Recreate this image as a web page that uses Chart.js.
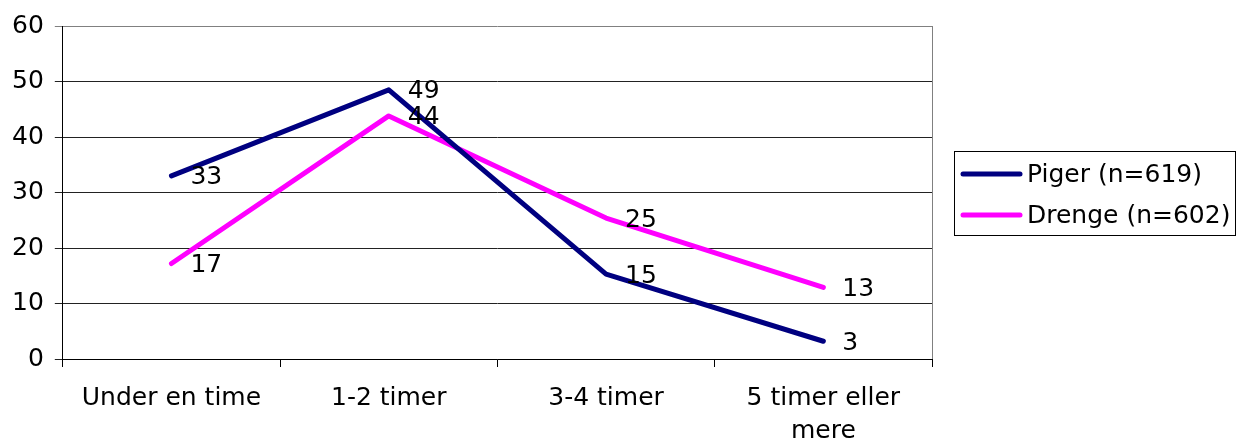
<!DOCTYPE html>
<html>
<head>
<meta charset="utf-8">
<script src="https://cdn.jsdelivr.net/npm/chart.js@4/dist/chart.umd.min.js"></script>
<style>
  html, body { margin: 0; padding: 0; background: #fff; }
  #wrap { width: 1236px; height: 443px; position: relative; }
</style>
</head>
<body>
<div id="wrap"><canvas id="c"></canvas></div>
<script>
const categories = ['Under en time', '1-2 timer', '3-4 timer', ['5 timer eller', 'mere']];
const pigerLabel = 'Piger (n=619)';
const drengeLabel = 'Drenge (n=602)';
const pigerValues = [33, 48.5, 15.3, 3.2];
const drengeValues = [17.2, 43.8, 25.4, 12.9];
const yTicks = [0, 10, 20, 30, 40, 50, 60];

const FONT = 'DejaVu Sans, Verdana, sans-serif';
const FS = 25;

const dataLabels = {
  id: 'dataLabels',
  afterDatasetsDraw(chart) {
    const ctx = chart.ctx;
    ctx.save();
    ctx.font = FS + 'px ' + FONT;
    ctx.fillStyle = '#000';
    ctx.textAlign = 'left';
    ctx.textBaseline = 'middle';
    chart.data.datasets.forEach((ds, i) => {
      const meta = chart.getDatasetMeta(i);
      meta.data.forEach((pt, j) => {
        ctx.fillText(String(Math.round(ds.data[j])), pt.x + 19, pt.y + 2);
      });
    });
    ctx.restore();
  }
};

const frame = {
  id: 'frame',
  beforeDatasetsDraw(chart) {
    const { ctx, chartArea } = chart;
    ctx.save();
    ctx.strokeStyle = '#808080';
    ctx.lineWidth = 1;
    ctx.beginPath();
    ctx.moveTo(Math.round(chartArea.right) + 0.5, chartArea.top);
    ctx.lineTo(Math.round(chartArea.right) + 0.5, chartArea.bottom);
    ctx.stroke();
    ctx.restore();
  }
};

const legendBox = {
  id: 'legendBox',
  afterDraw(chart) {
    const { ctx, chartArea } = chart;
    const left = Math.round(chartArea.right) + 22;
    const cy = (chartArea.top + chartArea.bottom) / 2;
    const w = 281, h = 84;
    const top = Math.round(cy - 42);
    ctx.save();
    ctx.strokeStyle = '#000';
    ctx.lineWidth = 1;
    ctx.strokeRect(left + 0.5, top + 0.5, w, h);
    ctx.font = FS + 'px ' + FONT;
    ctx.textAlign = 'left';
    ctx.textBaseline = 'middle';
    chart.data.datasets.forEach((ds, i) => {
      const y = top + 23 + i * 41;
      ctx.strokeStyle = ds.borderColor;
      ctx.lineWidth = 5;
      ctx.lineCap = 'round';
      ctx.beginPath();
      ctx.moveTo(left + 9, y);
      ctx.lineTo(left + 66, y);
      ctx.stroke();
      ctx.fillStyle = '#000';
      ctx.fillText(ds.label, left + 73, y + 1);
    });
    ctx.restore();
  }
};

new Chart(document.getElementById('c'), {
  type: 'line',
  data: {
    labels: categories,
    datasets: [
      {
        label: pigerLabel,
        data: pigerValues,
        borderColor: '#000080',
        backgroundColor: '#000080',
        borderWidth: 5,
        borderCapStyle: 'round',
        borderJoinStyle: 'round',
        pointRadius: 0,
        tension: 0
      },
      {
        label: drengeLabel,
        data: drengeValues,
        borderColor: '#FF00FF',
        backgroundColor: '#FF00FF',
        borderWidth: 5,
        borderCapStyle: 'round',
        borderJoinStyle: 'round',
        pointRadius: 0,
        tension: 0
      }
    ]
  },
  options: {
    responsive: true,
    maintainAspectRatio: false,
    animation: false,
    layout: { padding: { left: 1, right: 304, top: 25, bottom: 0 } },
    plugins: {
      legend: { display: false },
      tooltip: { enabled: false }
    },
    scales: {
      x: {
        offset: true,
        grid: {
          offset: true,
          drawOnChartArea: false,
          drawTicks: true,
          tickLength: 8,
          color: '#000'
        },
        border: { display: true, color: '#000', width: 1 },
        ticks: {
          color: '#000',
          padding: 15,
          maxRotation: 0,
          autoSkip: false,
          font: { family: FONT, size: FS, lineHeight: 1.32 }
        },
        afterFit(scale) { scale.height = 84; }
      },
      y: {
        min: 0,
        max: 60,
        afterBuildTicks(scale) { scale.ticks = yTicks.map(v => ({ value: v })); },
        grid: {
          drawTicks: true,
          tickLength: 8,
          color: (c) => (c.tick && c.tick.value === 60 ? '#808080' : '#222'),
          lineWidth: 1
        },
        border: { display: true, color: '#000', width: 1 },
        ticks: {
          color: '#000',
          padding: 11,
          font: { family: FONT, size: FS }
        }
      }
    }
  },
  plugins: [frame, dataLabels, legendBox]
});
</script>
</body>
</html>
